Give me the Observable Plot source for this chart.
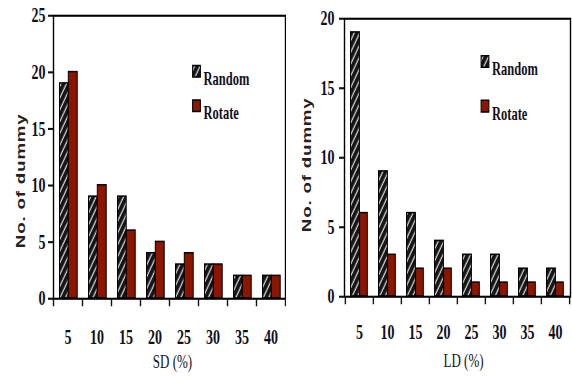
<!DOCTYPE html>
<html>
<head>
<meta charset="utf-8">
<script src="https://cdn.jsdelivr.net/npm/d3@7"></script>
<script src="https://cdn.jsdelivr.net/npm/@observablehq/plot@0.6"></script>
<style>
  html, body { margin: 0; padding: 0; background: #fff; }
  #wrap { display: flex; width: 572px; height: 377px; overflow: hidden; }
</style>
</head>
<body>
<div id="wrap"></div>
<script>
// ---- data ----
const categories = [5, 10, 15, 20, 25, 30, 35, 40];
const seriesNames = ["Random", "Rotate"];
const sdRandom = [19, 9, 9, 4, 3, 3, 2, 2];
const sdRotate = [20, 10, 6, 5, 4, 3, 2, 2];
const ldRandom = [19, 9, 6, 4, 3, 3, 2, 2];
const ldRotate = [6, 3, 2, 2, 1, 1, 1, 1];
const sdTicks = [0, 5, 10, 15, 20, 25];
const ldTicks = [0, 5, 10, 15, 20];
const yTitle = "No. of dummy";
const sdTitle = "SD (%)";
const ldTitle = "LD (%)";

// ---- styling ----
const S = 1.5;               // vertical stretch of the printed figure
const W = 286, H = 377, HU = H / S;
const RED = "#8c1500";
const serif = "'Liberation Serif', 'Times New Roman', serif";
const sans = "'Liberation Sans', Arial, sans-serif";

function rows(rnd, rot) {
  const out = [];
  categories.forEach((c, i) => {
    out.push({cat: c, series: seriesNames[0], value: rnd[i]});
    out.push({cat: c, series: seriesNames[1], value: rot[i]});
  });
  return out;
}

function panel(cfg) {
  const hatchId = "hatch-" + cfg.id;
  const data = rows(cfg.rnd, cfg.rot);
  const bw = (W - cfg.ml - cfg.mr) / categories.length;
  const svg = Plot.plot({
    width: W,
    height: HU,
    marginLeft: cfg.ml,
    marginRight: cfg.mr,
    marginTop: cfg.mt,
    marginBottom: cfg.mb,
    style: {background: "transparent", color: "#111"},
    x: {type: "band", domain: categories, padding: 0},
    y: {domain: [0, cfg.ticks[cfg.ticks.length - 1]]},
    marks: [
      Plot.barY(data.filter(d => d.series === "Random"), {
        x: "cat", y: "value", fill: `url(#${hatchId})`, stroke: "#000", strokeWidth: 1,
        insetLeft: cfg.rL, insetRight: cfg.rR
      }),
      Plot.barY(data.filter(d => d.series === "Rotate"), {
        x: "cat", y: "value", fill: RED, stroke: "#000", strokeWidth: 1,
        insetLeft: cfg.tL, insetRight: cfg.tR
      }),
      Plot.frame({stroke: "#000", strokeWidth: 1.4}),
      Plot.axisY({
        ticks: cfg.ticks, tickSize: cfg.yts, tickPadding: cfg.ytp, label: null,
        fontSize: 14, fontWeight: "bold", fontFamily: serif, strokeWidth: 1.4, fill: "#10101c"
      }),
      Plot.axisX({
        tickSize: 0, tickPadding: cfg.xtp, label: null,
        fontSize: 14, fontWeight: "bold", fontFamily: serif, fill: "#10101c"
      }),
      Plot.axisX({tickSize: 5.5, text: null, label: null, dx: -bw / 2, strokeWidth: 1.4}),
      Plot.axisX([categories[categories.length - 1]], {tickSize: 5.5, text: null, label: null, dx: bw / 2, strokeWidth: 1.4}),
      Plot.text([cfg.title], {
        text: d => d, frameAnchor: "bottom", dx: cfg.tdx, dy: cfg.tdy,
        fontSize: 13, fontFamily: serif, fill: "#111"
      }),
      Plot.text([yTitle], {
        text: d => d, frameAnchor: "left", textAnchor: "middle", rotate: -90,
        dx: cfg.ydx, dy: cfg.ydy,
        fontSize: 12.5, fontWeight: "bold", fontFamily: sans, fill: "#2a1f1f"
      }),
      // legend
      Plot.dot([seriesNames[0]], {
        frameAnchor: "top-left", dx: cfg.lgx, dy: cfg.lgy1, symbol: "square", r: 4.4,
        fill: `url(#${hatchId})`, stroke: "#000", strokeWidth: 1
      }),
      Plot.dot([seriesNames[1]], {
        frameAnchor: "top-left", dx: cfg.lgx, dy: cfg.lgy2, symbol: "square", r: 4.4,
        fill: RED, stroke: "#000", strokeWidth: 1
      }),
      Plot.text([seriesNames[0]], {
        text: d => d, frameAnchor: "top-left", dx: cfg.lgx + 7, dy: cfg.lgy1, textAnchor: "start",
        fontSize: 12.5, fontWeight: "bold", fontFamily: serif, fill: "#10101c"
      }),
      Plot.text([seriesNames[1]], {
        text: d => d, frameAnchor: "top-left", dx: cfg.lgx + 7, dy: cfg.lgy2, textAnchor: "start",
        fontSize: 12.5, fontWeight: "bold", fontFamily: serif, fill: "#10101c"
      })
    ]
  });

  // slight letter spacing of the rotated axis title
  svg.querySelectorAll("text").forEach(t => {
    if (t.textContent === yTitle) t.style.letterSpacing = "0.55px";
  });

  // hatch pattern for the "Random" bars
  const ns = "http://www.w3.org/2000/svg";
  const defs = document.createElementNS(ns, "defs");
  const pat = document.createElementNS(ns, "pattern");
  pat.setAttribute("id", hatchId);
  pat.setAttribute("patternUnits", "userSpaceOnUse");
  pat.setAttribute("width", "4.5");
  pat.setAttribute("height", "4.5");
  pat.setAttribute("patternTransform", "rotate(35)");
  const bg = document.createElementNS(ns, "rect");
  bg.setAttribute("width", "4.5");
  bg.setAttribute("height", "4.5");
  bg.setAttribute("fill", "#151515");
  const ln = document.createElementNS(ns, "line");
  ln.setAttribute("x1", "1"); ln.setAttribute("x2", "1");
  ln.setAttribute("y1", "0"); ln.setAttribute("y2", "4.5");
  ln.setAttribute("stroke", "#d8d8d8");
  ln.setAttribute("stroke-width", "1.1");
  pat.appendChild(bg); pat.appendChild(ln);
  defs.appendChild(pat);
  svg.insertBefore(defs, svg.firstChild);

  // the printed figure is stretched vertically
  svg.setAttribute("viewBox", `0 0 ${W} ${HU}`);
  svg.setAttribute("width", W);
  svg.setAttribute("height", H);
  svg.setAttribute("preserveAspectRatio", "none");
  svg.style.width = W + "px";
  svg.style.height = H + "px";
  svg.style.maxWidth = "none";
  return svg;
}

const wrap = document.getElementById("wrap");
wrap.appendChild(panel({
  id: "sd", rnd: sdRandom, rot: sdRotate, ticks: sdTicks, title: sdTitle,
  ml: 53, mr: 1, mt: 10, mb: HU - 298 / S,
  rL: 6.5, rR: 13.8, tL: 15.3, tR: 4.8,
  yts: 5, ytp: 3, xtp: 20,
  tdx: 3, tdy: 46, ydx: -33, ydy: 15.7,
  lgx: 143, lgy1: 37, lgy2: 60
}));
wrap.appendChild(panel({
  id: "ld", rnd: ldRandom, rot: ldRotate, ticks: ldTicks, title: ldTitle,
  ml: 58, mr: 2, mt: 12, mb: HU - 296 / S,
  rL: 5.5, rR: 13.6, tL: 14.6, tR: 5.7,
  yts: 5, ytp: 5, xtp: 18.5,
  tdx: 6, tdy: 46.5, ydx: -38, ydy: 4.7,
  lgx: 140.5, lgy1: 28.5, lgy2: 58.3
}));
</script>
</body>
</html>
